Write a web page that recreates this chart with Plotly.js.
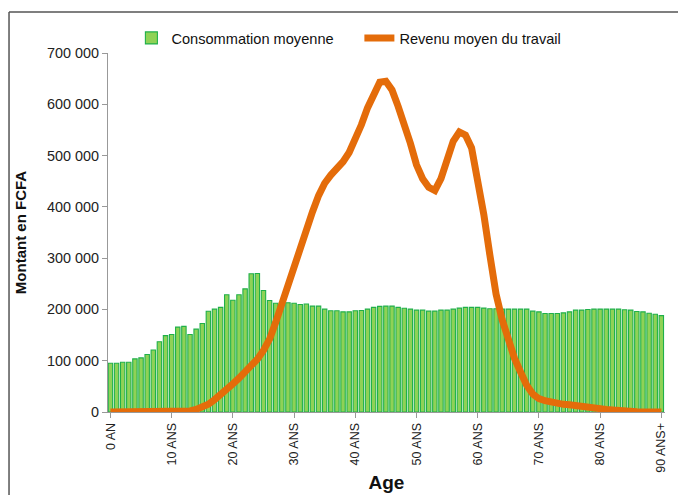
<!DOCTYPE html>
<html>
<head>
<meta charset="utf-8">
<script src="https://cdn.plot.ly/plotly-3.0.1.min.js"></script>
<style>html,body{margin:0;padding:0;background:#fff;}#chart{width:678px;height:495px;}</style>
</head>
<body>
<div id="chart"></div>
<script>
const ages = [0,1,2,3,4,5,6,7,8,9,10,11,12,13,14,15,16,17,18,19,20,21,22,23,24,25,26,27,28,29,30,31,32,33,34,35,36,37,38,39,40,41,42,43,44,45,46,47,48,49,50,51,52,53,54,55,56,57,58,59,60,61,62,63,64,65,66,67,68,69,70,71,72,73,74,75,76,77,78,79,80,81,82,83,84,85,86,87,88,89,90];

const consommation = [95000,95000,97000,97000,103500,105500,112000,121000,137000,149000,
  151000,165500,167000,151000,161500,172500,196500,200500,204000,228500,
  218000,228500,240000,269500,270000,237000,217500,212000,212000,213000,
  212000,209700,210500,206500,206500,200600,197300,197300,195300,195300,
  197300,198000,200600,204000,206000,206500,206500,204000,202300,200600,
  198600,198600,196600,196600,198600,198600,200600,202600,204000,204000,
  204000,202600,201300,201300,200600,200600,200600,200600,200600,196600,
  195300,192000,192000,192000,193300,195300,198600,198600,200000,200600,
  200600,200600,200600,200600,199300,198600,196000,195300,192600,190600,
  188000];

const revenu = [0,0,0,0,0,0,0,0,0,0,
  0,0,0,2000,5000,9000,15000,24000,33000,43000,
  55000,66000,78000,88000,103000,120000,142000,175000,212000,247000,
  282000,316000,352000,390000,422000,446000,462000,474000,488000,506000,
  530000,560000,593000,622000,643000,645000,628000,596000,564000,524000,
  482000,455000,438000,432000,455000,490000,528000,546000,540000,515000,
  455000,385000,305000,230000,180000,140000,105000,78000,52000,35000,
  26000,22000,19000,16000,15000,14000,12000,11000,10000,8000,
  6000,5000,4000,2500,1500,1000,500,0,0,0,
  0];

const tickAges = [0,10,20,30,40,50,60,70,80,90];
const tickLabels = ["0 AN","10 ANS","20 ANS","30 ANS","40 ANS","50 ANS","60 ANS","70 ANS","80 ANS","90 ANS+"];
const yTicks = [0,100000,200000,300000,400000,500000,600000,700000];

const font = "Liberation Sans, Arial, sans-serif";

const traces = [
  {
    type: "bar",
    x: ages,
    y: consommation,
    name: "Consommation moyenne",
    marker: {color: "#8fd256", line: {color: "#1fb04a", width: 1.1}},
    hoverinfo: "x+y"
  },
  {
    type: "scatter",
    mode: "lines",
    x: ages,
    y: revenu,
    name: "Revenu moyen du travail",
    line: {color: "#E46C0A", width: 7}
  }
];

const layout = {
  width: 678,
  height: 495,
  margin: {l: 108, r: 13, t: 53, b: 83},
  paper_bgcolor: "#ffffff",
  plot_bgcolor: "#ffffff",
  font: {family: font, size: 14.5, color: "#222"},
  separators: ", ",
  bargap: 0.28,
  showlegend: true,
  legend: {
    orientation: "h",
    x: 0.042, xanchor: "left",
    y: 1.042, yanchor: "middle",
    font: {family: font, size: 14.6, color: "#111"},
    entrywidth: 183,
    itemwidth: 30,
    bgcolor: "rgba(0,0,0,0)"
  },
  xaxis: {
    range: [-0.4, 90.6],
    tickmode: "array",
    tickvals: tickAges,
    ticktext: tickLabels,
    tickangle: -90,
    tickfont: {family: font, size: 12.5, color: "#222"},
    ticks: "outside",
    ticklen: 5,
    tickcolor: "#999",
    showline: true,
    linecolor: "#999",
    linewidth: 1,
    showgrid: false,
    zeroline: false,
    title: {text: "<b>Age</b>", font: {family: font, size: 19, color: "#111"}, standoff: 3}
  },
  yaxis: {
    range: [0, 700000],
    tickmode: "array",
    tickvals: yTicks,
    tickformat: ",d",
    tickfont: {family: font, size: 14.4, color: "#222"},
    ticks: "outside",
    ticklen: 5,
    tickcolor: "#999",
    showline: true,
    linecolor: "#999",
    linewidth: 1,
    showgrid: false,
    zeroline: false,
    title: {text: "<b>Montant en FCFA</b>", font: {family: font, size: 15, color: "#111"}, standoff: 16}
  },
  shapes: [
    {type: "line", xref: "paper", yref: "paper", x0: -0.1777, x1: 1.2, y0: 1.1142, y1: 1.1142, line: {color: "#555", width: 1.5}},
    {type: "line", xref: "paper", yref: "paper", x0: -0.1777, x1: -0.1777, y0: 1.1142, y1: -0.4, line: {color: "#555", width: 1.5}}
  ]
};

Plotly.newPlot("chart", traces, layout, {displayModeBar: false, staticPlot: true});
</script>
</body>
</html>
